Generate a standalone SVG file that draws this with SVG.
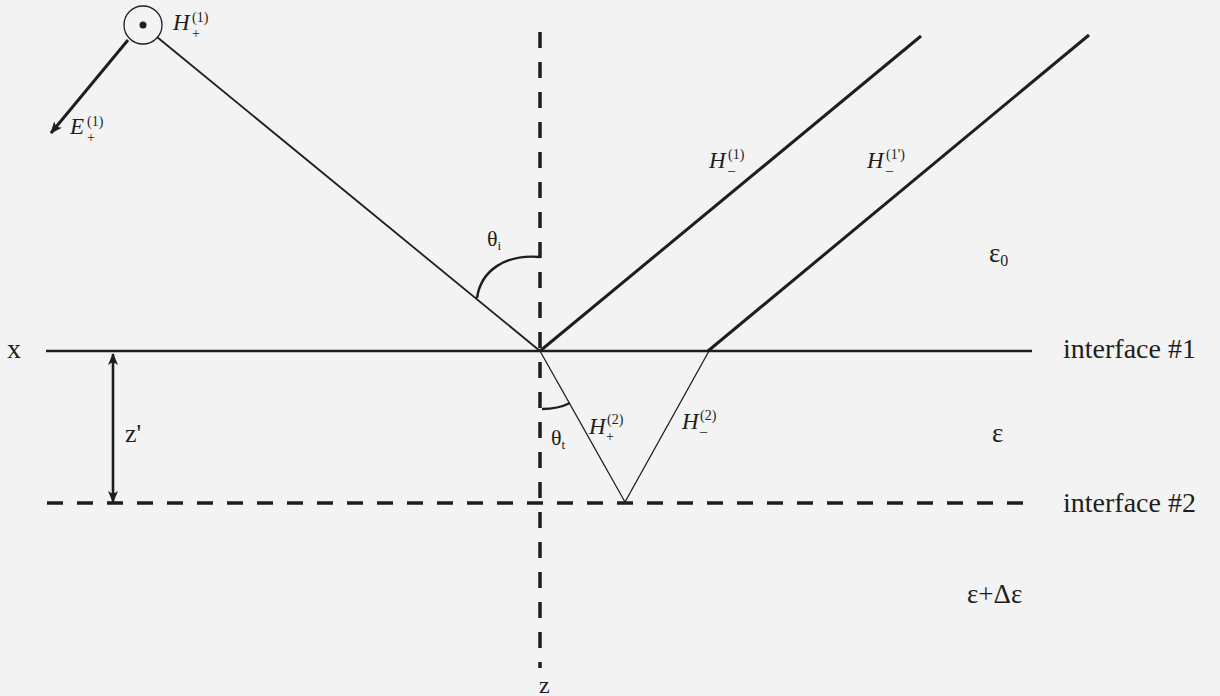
<svg xmlns="http://www.w3.org/2000/svg" width="1220" height="696" viewBox="0 0 1220 696">
<style>
.t{font-family:"Liberation Serif","Times New Roman",serif;fill:#1e1e1e}
.it{font-style:italic}
.h{font-size:23px}
.sm{font-size:14px}
.ln{stroke:#1e1e1e;fill:none}
.dash{stroke:#1e1e1e;stroke-width:3.5;stroke-dasharray:16 14;fill:none}
</style>
<defs>
<marker id="ah" viewBox="0 0 12 10" refX="11" refY="5" markerWidth="12" markerHeight="10" markerUnits="userSpaceOnUse" orient="auto-start-reverse">
<path d="M0,0 L12,5 L0,10 L3,5 Z" fill="#1e1e1e"/>
</marker>
</defs>
<rect width="1220" height="696" fill="#f3f3f3"/>

<g id="connectors">
<line id="interface1" class="ln" x1="46" y1="351" x2="1032" y2="351" stroke-width="2.6"/>
<line id="interface2" class="dash" x1="47" y1="503" x2="1030" y2="503"/>
<line id="z-axis" class="dash" x1="540" y1="32" x2="540" y2="668"/>
<line id="incident" class="ln" x1="157" y1="37" x2="540" y2="351" stroke-width="1.8"/>
<line id="reflected1" class="ln" x1="540" y1="351" x2="921" y2="36" stroke-width="3"/>
<line id="reflected2" class="ln" x1="708" y1="351" x2="1089" y2="35" stroke-width="3"/>
<line id="transmitted" class="ln" x1="540" y1="351" x2="625" y2="502" stroke-width="1.3"/>
<line id="transmitted-up" class="ln" x1="625" y1="502" x2="709" y2="351" stroke-width="1.3"/>
<line id="E-vector" class="ln" x1="128" y1="40" x2="51" y2="133" stroke-width="3" marker-end="url(#ah)"/>
<line id="zprime" class="ln" x1="113" y1="354" x2="113" y2="502" stroke-width="2.6" marker-start="url(#ah)" marker-end="url(#ah)"/>
<path id="theta-i-arc" class="ln" stroke-width="2.4" d="M477,298 C481,270 506,254 540,257"/>
<path id="theta-t-arc" class="ln" stroke-width="2.4" d="M542,409 Q558,409 570,403"/>
</g>

<g id="H-source">
<circle cx="143" cy="25" r="19" fill="none" stroke="#1e1e1e" stroke-width="1.3"/>
<circle cx="143" cy="25" r="3.5" fill="#1e1e1e"/>
<text class="t it h" x="173" y="30">H</text>
<text class="t sm" x="192" y="22">(1)</text>
<text class="t sm" x="192" y="38">+</text>
</g>

<g id="E-label">
<text class="t it h" x="70" y="134">E</text>
<text class="t sm" x="87" y="126">(1)</text>
<text class="t sm" x="87" y="142">+</text>
</g>

<g id="H-minus-1">
<text class="t it h" x="709" y="168">H</text>
<text class="t sm" x="728" y="159">(1)</text>
<text class="t sm" x="728" y="175">–</text>
</g>

<g id="H-minus-1p">
<text class="t it h" x="867" y="168">H</text>
<text class="t sm" x="886" y="159">(1')</text>
<text class="t sm" x="886" y="175">–</text>
</g>

<g id="H-plus-2">
<text class="t it h" x="589" y="434">H</text>
<text class="t sm" x="607" y="424">(2)</text>
<text class="t sm" x="606" y="441">+</text>
</g>

<g id="H-minus-2">
<text class="t it h" x="682" y="429">H</text>
<text class="t sm" x="700" y="420">(2)</text>
<text class="t sm" x="700" y="436">–</text>
</g>

<g id="theta-i">
<text class="t" x="487" y="246" font-size="22">θ<tspan font-size="13" dy="4">i</tspan></text>
</g>
<g id="theta-t">
<text class="t" x="551" y="445" font-size="22">θ<tspan font-size="13" dy="4">t</tspan></text>
</g>

<g id="eps0"><text class="t" x="989" y="262" font-size="27">ε<tspan font-size="16" dy="4">0</tspan></text></g>
<g id="eps"><text class="t" x="992" y="442" font-size="27">ε</text></g>
<g id="eps-delta"><text class="t" x="967" y="603" font-size="27">ε+Δε</text></g>

<g id="label-interface1"><text class="t" x="1063" y="358" font-size="28">interface #1</text></g>
<g id="label-interface2"><text class="t" x="1063" y="512" font-size="28">interface #2</text></g>
<g id="label-x"><text class="t" x="7" y="358" font-size="28">x</text></g>
<g id="label-zprime"><text class="t" x="125" y="442" font-size="26">z'</text></g>
<g id="label-z"><text class="t" x="539" y="693" font-size="24">z</text></g>
</svg>
